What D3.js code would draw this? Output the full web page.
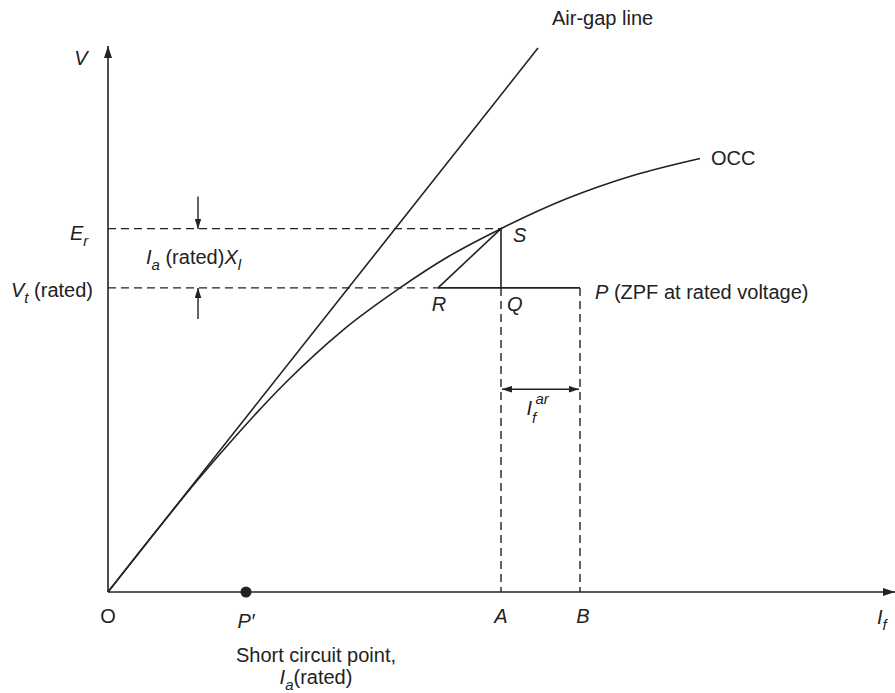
<!DOCTYPE html>
<html>
<head>
<meta charset="utf-8">
<script src="https://cdn.jsdelivr.net/npm/d3@7"></script>
<style>
  html, body { margin: 0; padding: 0; background: #fff; }
  svg text { font-family: "Liberation Sans", Arial, Helvetica, sans-serif; fill: #222; }
</style>
</head>
<body>
<svg id="chart" width="895" height="693"></svg>
<script>
// ---- data (field current units, voltage units) ----
const occFieldCurrent = [0, 0.50, 0.90, 1.30, 1.78, 2.35, 2.92, 3.40, 3.93, 4.59, 5.25, 5.92];
const occVoltage      = [0, 0.63, 1.12, 1.58, 2.09, 2.61, 3.03, 3.34, 3.62, 3.92, 4.15, 4.32];
const airGapFieldCurrent = [0, 4.30];
const airGapVoltage      = [0, 5.42];
const ratedEr = 3.62;          // E_r
const ratedVt = 3.03;          // V_t (rated)
const pointNames = ["S", "Q", "R", "P", "P′"];
const pointFieldCurrent = [3.93, 3.93, 3.30, 4.72, 1.38];
const pointVoltage      = [3.62, 3.03, 3.03, 3.03, 0];
const xAxisLabels = ["O", "A", "B"];
const xAxisLabelValues = [0, 3.93, 4.72];
const drops = [0.90];           // I_a X_l arrow position (field current)
const ifArY = [2.02];           // level of I_f^ar arrow (voltage units)

const svg = d3.select("#chart");
const x = d3.scaleLinear().domain([0, 7.87]).range([108, 895]);
const y = d3.scaleLinear().domain([0, 5.44]).range([592, 46]);
const ink = "#222";

const pt = {};
pointNames.forEach((n, i) => pt[n] = { x: pointFieldCurrent[i], y: pointVoltage[i] });

// arrow markers
const defs = svg.append("defs");
defs.append("marker").attr("id", "ah").attr("viewBox", "0 0 12 8")
  .attr("refX", 12).attr("refY", 4).attr("markerWidth", 12).attr("markerHeight", 8)
  .attr("markerUnits", "userSpaceOnUse").attr("orient", "auto-start-reverse")
  .append("path").attr("d", "M0,0 L12,4 L0,8 Z").attr("fill", ink);
defs.append("marker").attr("id", "ahs").attr("viewBox", "0 0 12 8")
  .attr("refX", 12).attr("refY", 4).attr("markerWidth", 10).attr("markerHeight", 7)
  .attr("markerUnits", "userSpaceOnUse").attr("orient", "auto-start-reverse")
  .append("path").attr("d", "M0,0 L12,4 L0,8 Z").attr("fill", ink);

// axes (no ticks)
const gx = svg.append("g").attr("transform", `translate(0,${y(0)})`)
  .call(d3.axisBottom(x).tickValues([]).tickSizeOuter(0));
gx.select(".domain").attr("stroke", ink).attr("stroke-width", 1.6).attr("marker-end", "url(#ah)")
  .attr("d", `M${x(0)},0H${x.range()[1]}`);
const gy = svg.append("g").attr("transform", `translate(${x(0)},0)`)
  .call(d3.axisLeft(y).tickValues([]).tickSizeOuter(0));
gy.select(".domain").attr("stroke", ink).attr("stroke-width", 1.6).attr("marker-end", "url(#ah)")
  .attr("d", `M0,${y(0)}V${y.range()[1]}`);

// dashed guides
const dash = "8,5";
function dashed(x1, y1, x2, y2) {
  svg.append("line").attr("x1", x(x1)).attr("x2", x(x2)).attr("y1", y(y1)).attr("y2", y(y2))
    .attr("stroke", ink).attr("stroke-width", 1.4).attr("stroke-dasharray", dash);
}
dashed(0, ratedEr, pt.S.x, ratedEr);
dashed(0, ratedVt, pt.R.x, ratedVt);
dashed(pt.Q.x, pt.Q.y, pt.Q.x, 0);
dashed(pt.P.x, pt.P.y, pt.P.x, 0);

// air-gap line
const line = d3.line().x(d => x(d[0])).y(d => y(d[1]));
svg.append("path").datum(airGapFieldCurrent.map((v, i) => [v, airGapVoltage[i]]))
  .attr("d", line).attr("fill", "none").attr("stroke", ink).attr("stroke-width", 1.6);

// OCC
svg.append("path").datum(occFieldCurrent.map((v, i) => [v, occVoltage[i]]))
  .attr("d", d3.line().x(d => x(d[0])).y(d => y(d[1])).curve(d3.curveMonotoneX))
  .attr("fill", "none").attr("stroke", ink).attr("stroke-width", 1.6);

// triangle SRQ and QP
const solid = d3.line().x(d => x(d.x)).y(d => y(d.y));
svg.append("path").datum([pt.R, pt.S, pt.Q]).attr("d", solid)
  .attr("fill", "none").attr("stroke", ink).attr("stroke-width", 1.6);
svg.append("path").datum([pt.R, pt.P]).attr("d", solid)
  .attr("fill", "none").attr("stroke", ink).attr("stroke-width", 1.6);

// I_a X_l arrows
drops.forEach(d => {
  svg.append("line").attr("x1", x(d)).attr("x2", x(d)).attr("y1", y(ratedEr + 0.32)).attr("y2", y(ratedEr))
    .attr("stroke", ink).attr("stroke-width", 1.4).attr("marker-end", "url(#ahs)");
  svg.append("line").attr("x1", x(d)).attr("x2", x(d)).attr("y1", y(ratedVt - 0.31)).attr("y2", y(ratedVt))
    .attr("stroke", ink).attr("stroke-width", 1.4).attr("marker-end", "url(#ahs)");
});

// I_f^ar double arrow
ifArY.forEach(v => {
  svg.append("line").attr("x1", x(pt.Q.x) + 1).attr("x2", x(pt.P.x) - 1).attr("y1", y(v)).attr("y2", y(v))
    .attr("stroke", ink).attr("stroke-width", 1.4)
    .attr("marker-start", "url(#ahs)").attr("marker-end", "url(#ahs)");
});

// P' dot
svg.append("circle").attr("cx", x(pt["P′"].x)).attr("cy", y(pt["P′"].y)).attr("r", 5.5).attr("fill", ink);

// ---- text ----
const FS = 20;
function label(tx, ty, anchor) {
  return svg.append("text").attr("x", tx).attr("y", ty).attr("text-anchor", anchor || "start")
    .attr("font-size", FS);
}
// V axis label
label(x(0) - 27, y(5.25), "middle").attr("font-style", "italic").text("V");
// I_f
{ const t = label(877, y(0) + 32);
  t.append("tspan").attr("font-style", "italic").text("I");
  t.append("tspan").attr("font-style", "italic").attr("font-size", 15).attr("dy", 6).text("f"); }
// E_r
{ const t = label(x(0) - 38, y(ratedEr) + 11);
  t.append("tspan").attr("font-style", "italic").text("E");
  t.append("tspan").attr("font-style", "italic").attr("font-size", 15).attr("dy", 6).text("r"); }
// V_t (rated)
{ const t = label(x(0) - 15, y(ratedVt) + 9, "end");
  t.append("tspan").attr("font-style", "italic").text("V");
  t.append("tspan").attr("font-style", "italic").attr("font-size", 15).attr("dy", 6).text("t");
  t.append("tspan").attr("dy", -6).text(" (rated)"); }
// I_a (rated) X_l
{ const t = label(x(0) + 38, (y(ratedEr) + y(ratedVt)) / 2 + 6);
  t.append("tspan").attr("font-style", "italic").text("I");
  t.append("tspan").attr("font-style", "italic").attr("font-size", 15).attr("dy", 6).text("a");
  t.append("tspan").attr("dy", -6).text(" (rated)");
  t.append("tspan").attr("font-style", "italic").text("X");
  t.append("tspan").attr("font-style", "italic").attr("font-size", 15).attr("dy", 6).text("l"); }
// point labels
label(x(pt.S.x) + 12, y(pt.S.y) + 13).attr("font-style", "italic").text("S");
label(x(pt.R.x) + 1, y(pt.R.y) + 23, "middle").attr("font-style", "italic").text("R");
label(x(pt.Q.x) + 6, y(pt.Q.y) + 23).attr("font-style", "italic").text("Q");
{ const t = label(x(pt.P.x) + 15, y(pt.P.y) + 11);
  t.append("tspan").attr("font-style", "italic").text("P");
  t.append("tspan").text(" (ZPF at rated voltage)"); }
// I_f^ar
{ const xa = (x(pt.Q.x) + x(pt.P.x)) / 2 - 14;
  const t = label(xa, y(ifArY[0]) + 26);
  t.append("tspan").attr("font-style", "italic").text("I");
  t.append("tspan").attr("font-style", "italic").attr("font-size", 15).attr("dy", 8).text("f");
  t.append("tspan").attr("font-style", "italic").attr("font-size", 15).attr("x", xa + 9).attr("dy", -19).text("ar"); }
// x-axis letters
xAxisLabels.forEach((n, i) => {
  label(x(xAxisLabelValues[i]) + (n === "B" ? 3 : 0), y(0) + 31, "middle")
    .attr("font-style", n === "O" ? "normal" : "italic").text(n);
});
label(x(pt["P′"].x), y(0) + 36, "middle").attr("font-style", "italic").text("P′");
// short circuit text
label(x(pt["P′"].x) + 70, y(0) + 70, "middle").text("Short circuit point,");
{ const t = label(x(pt["P′"].x) + 70, y(0) + 92, "middle");
  t.append("tspan").attr("font-style", "italic").text("I");
  t.append("tspan").attr("font-style", "italic").attr("font-size", 15).attr("dy", 6).text("a");
  t.append("tspan").attr("dy", -6).text("(rated)"); }
// curve labels
label(x(airGapFieldCurrent[1]) + 14, 25).text("Air-gap line");
label(x(occFieldCurrent[occFieldCurrent.length - 1]) + 11, y(occVoltage[occVoltage.length - 1]) + 7).text("OCC");
</script>
</body>
</html>
